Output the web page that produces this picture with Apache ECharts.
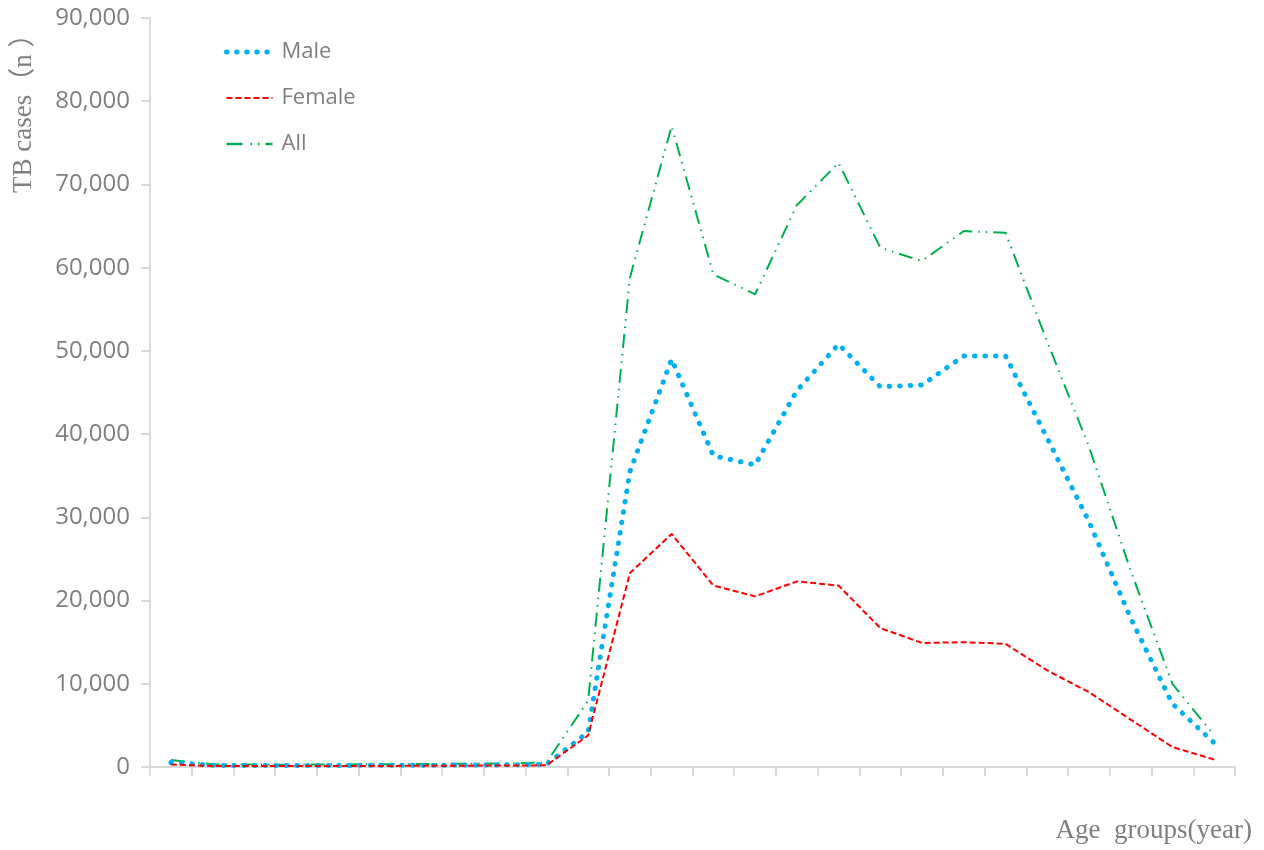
<!DOCTYPE html>
<html>
<head>
<meta charset="utf-8">
<title>TB cases by age group</title>
<script src="https://cdn.jsdelivr.net/npm/echarts@6/dist/echarts.min.js"></script>
<style>
  html, body { margin: 0; padding: 0; background: #ffffff; }
  #chart { width: 1264px; height: 850px; }
</style>
</head>
<body>
<div id="chart"></div>
<script>
// Age groups (years); labels are not printed on the axis
const ageGroups = ['0', '1', '2', '3', '4', '5', '6', '7', '8', '9',
  '10-', '15-', '20-', '25-', '30-', '35-', '40-', '45-', '50-', '55-',
  '60-', '65-', '70-', '75-', '80-', '85+'];

// Reported TB cases per age group
const maleCases = [550, 200, 180, 170, 190, 200, 210, 230, 260, 320,
  4200, 35500, 49000, 37400, 36300, 45200, 50800, 45700, 45900, 49400,
  49400, 39500, 29500, 17900, 7600, 2900];
const femaleCases = [300, 120, 110, 110, 120, 130, 140, 160, 180, 200,
  3800, 23300, 28000, 21800, 20500, 22300, 21800, 16700, 14900, 15000,
  14800, 11600, 9000, 5700, 2400, 900];
const allCases = [850, 320, 290, 280, 310, 330, 350, 390, 440, 520,
  8000, 58800, 77000, 59200, 56800, 67500, 72600, 62400, 60800, 64400,
  64200, 51100, 38500, 23600, 10000, 3800];

const yTicks = { min: 0, max: 90000, interval: 10000 };

const axisGray = '#d9d9d9';
const textGray = '#7f7f7f';
const sansFont = '"Open Sans", "Noto Sans", sans-serif';
const serifFont = '"Liberation Serif", "DejaVu Serif", "Noto Sans CJK SC", serif';

// Line dash patterns shared by the series and their legend keys
const maleLine = { color: '#00b0f0', width: 5, type: [0.5, 10], cap: 'round' };
const femaleLine = { color: '#ff0000', width: 2, type: [6, 3] };
const allLine = { color: '#00b050', width: 2, type: [14, 6, 1.5, 6, 1.5, 6] };

const chart = echarts.init(document.getElementById('chart'), null, { renderer: 'canvas' });

chart.setOption({
  animation: false,
  backgroundColor: '#ffffff',
  grid: { left: 150, right: 29, top: 18, bottom: 83, containLabel: false },
  legend: {
    orient: 'vertical',
    left: 219,
    top: 36,
    itemWidth: 46,
    itemHeight: 14,
    itemGap: 24,
    textStyle: { color: textGray, fontSize: 22, fontFamily: sansFont, padding: [0, 0, 0, 4] },
    data: [
      { name: 'Male', itemStyle: { opacity: 0 }, lineStyle: Object.assign({}, maleLine, { type: [0.5, 9.6] }) },
      { name: 'Female', itemStyle: { opacity: 0 }, lineStyle: femaleLine },
      { name: 'All', itemStyle: { opacity: 0 }, lineStyle: Object.assign({}, allLine, { width: 2.5, type: [16, 8, 1.5, 6, 1.5, 6] }) }
    ]
  },
  xAxis: {
    type: 'category',
    data: ageGroups,
    boundaryGap: true,
    axisLine: { show: true, lineStyle: { color: axisGray, width: 2 } },
    axisTick: { show: true, length: 9, inside: false, lineStyle: { color: axisGray, width: 2 } },
    axisLabel: { show: false },
    splitLine: { show: false }
  },
  yAxis: {
    type: 'value',
    min: yTicks.min,
    max: yTicks.max,
    interval: yTicks.interval,
    axisLine: { show: true, lineStyle: { color: axisGray, width: 2 } },
    axisTick: { show: true, length: 9, lineStyle: { color: axisGray, width: 2 } },
    axisLabel: {
      color: textGray,
      fontSize: 24,
      fontFamily: sansFont,
      margin: 20,
      formatter: v => v.toLocaleString('en-US')
    },
    splitLine: { show: false }
  },
  graphic: [
    {
      type: 'text',
      x: 24,
      y: 193,
      rotation: Math.PI / 2,
      style: {
        text: 'TB cases（n ）',
        font: '27px ' + serifFont,
        fill: textGray,
        textAlign: 'left',
        textVerticalAlign: 'middle'
      }
    },
    {
      type: 'text',
      x: 1252,
      y: 831,
      style: {
        text: 'Age  groups(year)',
        font: '27px ' + serifFont,
        fill: textGray,
        textAlign: 'right',
        textVerticalAlign: 'middle'
      }
    }
  ],
  series: [
    {
      name: 'Male',
      type: 'line',
      data: maleCases,
      symbol: 'none',
      z: 3,
      lineStyle: maleLine,
      itemStyle: { color: maleLine.color }
    },
    {
      name: 'Female',
      type: 'line',
      data: femaleCases,
      symbol: 'none',
      z: 4,
      lineStyle: femaleLine,
      itemStyle: { color: femaleLine.color }
    },
    {
      name: 'All',
      type: 'line',
      data: allCases,
      symbol: 'none',
      z: 2,
      lineStyle: allLine,
      itemStyle: { color: allLine.color }
    }
  ]
});
</script>
</body>
</html>
